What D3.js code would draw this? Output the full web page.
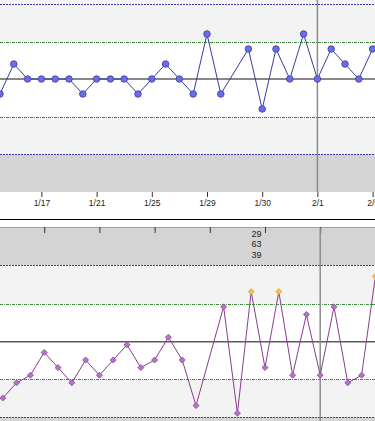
<!DOCTYPE html>
<html>
<head>
<meta charset="utf-8">
<script src="https://cdn.jsdelivr.net/npm/d3@7"></script>
<style>
  body { margin: 0; background: #fff; }
  svg { display: block; }
  .axis text { font-family: 'Liberation Sans', Arial, sans-serif; font-size: 8.5px; fill: #222; }
  .note { font-family: 'Liberation Sans', Arial, sans-serif; font-size: 9px; fill: #222; }
</style>
</head>
<body>
<div id="chart"></div>
<script>
var width = 375
var height = 421

// sample number of the labelled ticks and their dates
var tickIndex = [3, 7, 11, 15, 19, 23, 27]
var tickLabels = ['1/17', '1/21', '1/25', '1/29', '1/30', '2/1', '2/5']

// upper chart, null = no sample
var topValues = [9, 11, 10, 10, 10, 10, 9, 10, 10, 10, 9, 10, 11, 10, 9, 13, 9, null, 12, 8, 12, 10, 13, 10, 12, 11, 10, 12]
var topCenter = 10
var topWarn = [7.5, 12.5]
var topLimit = [5, 15]

// lower chart
var bottomValues = [22, 24, 25, 28, 26, 24, 27, 25, 27, 29, 26, 27, 30, 27, 21, null, 34, 20, 36, 26, 36, 25, 33, 25, 34, 24, 25, 38]
var bottomCenter = 29.4
var bottomWarn = [24.5, 34.4]
var bottomLimit = [19.5, 39.5]

var cursorIndex = 23
var cursorText = ['29', '63', '39']

var svg = d3
  .select('#chart')
  .append('svg')
  .attr('width', width)
  .attr('height', height)

var xTop = d3.scaleLinear().domain([0, 27]).range([0, 372.6])
var xBottom = d3.scaleLinear().domain([0, 27]).range([2.8, 375.4])

var yTop = d3.scaleLinear().domain(topLimit).range([154, 4])
var yBottom = d3.scaleLinear().domain(bottomLimit).range([417, 265])

var topPoints = topValues
  .map(function(v, i) { return { i: i, v: v } })
  .filter(function(d) { return d.v !== null })
var bottomPoints = bottomValues
  .map(function(v, i) { return { i: i, v: v } })
  .filter(function(d) { return d.v !== null })

// ---- upper panel backgrounds
svg.append('rect')
  .attr('x', 0).attr('y', 0)
  .attr('width', width).attr('height', yTop(topLimit[0]))
  .attr('fill', '#f3f3f3')
svg.append('rect')
  .attr('x', 0).attr('y', yTop(topWarn[1]))
  .attr('width', width).attr('height', yTop(topWarn[0]) - yTop(topWarn[1]))
  .attr('fill', '#ffffff')
svg.append('rect')
  .attr('x', 0).attr('y', yTop(topLimit[0]))
  .attr('width', width).attr('height', 192 - yTop(topLimit[0]))
  .attr('fill', '#d4d4d4')

// ---- lower panel backgrounds
svg.append('rect')
  .attr('x', 0).attr('y', 227)
  .attr('width', width).attr('height', height - 227)
  .attr('fill', '#d4d4d4')
svg.append('rect')
  .attr('x', 0).attr('y', yBottom(bottomLimit[1]))
  .attr('width', width).attr('height', yBottom(bottomLimit[0]) - yBottom(bottomLimit[1]))
  .attr('fill', '#f3f3f3')
svg.append('rect')
  .attr('x', 0).attr('y', yBottom(bottomWarn[1]))
  .attr('width', width).attr('height', yBottom(bottomWarn[0]) - yBottom(bottomWarn[1]))
  .attr('fill', '#ffffff')

// panel borders
svg.append('line')
  .attr('x1', 0).attr('x2', width)
  .attr('y1', 219.5).attr('y2', 219.5)
  .attr('stroke', '#000')
svg.append('line')
  .attr('x1', 0).attr('x2', width)
  .attr('y1', 227.5).attr('y2', 227.5)
  .attr('stroke', '#a0a0a0')

// reference lines
function refLines(y, center, warn, limit, centerColor, centerWidth) {
  limit.forEach(function(v) {
    svg.append('line')
      .attr('x1', 0).attr('x2', width)
      .attr('y1', Math.round(y(v)) + 0.5).attr('y2', Math.round(y(v)) + 0.5)
      .attr('stroke', '#3a3ab8')
      .attr('stroke-dasharray', '2,1')
  })
  warn.forEach(function(v) {
    svg.append('line')
      .attr('x1', 0).attr('x2', width)
      .attr('y1', Math.round(y(v)) + 0.5).attr('y2', Math.round(y(v)) + 0.5)
      .attr('stroke', '#3f8a3f')
      .attr('stroke-dasharray', '3,1,1,1')
  })
  svg.append('line')
    .attr('x1', 0).attr('x2', width)
    .attr('y1', y(center)).attr('y2', y(center))
    .attr('stroke', centerColor)
    .attr('stroke-width', centerWidth)
}
refLines(yTop, topCenter, topWarn, topLimit, '#888888', 2)
refLines(yBottom, bottomCenter, bottomWarn, bottomLimit, '#5a5a5a', 1.3)

// axes
var topAxis = d3
  .axisBottom(xTop)
  .tickValues(tickIndex)
  .tickFormat(function(d, i) { return tickLabels[i] })
  .tickSize(5)
  .tickSizeOuter(0)
svg.append('g')
  .attr('class', 'axis x-axis')
  .attr('transform', 'translate(0,192)')
  .call(topAxis)

var bottomAxis = d3
  .axisBottom(xBottom)
  .tickValues(tickIndex)
  .tickFormat('')
  .tickSize(6)
  .tickSizeOuter(0)
svg.append('g')
  .attr('class', 'axis x-axis-bottom')
  .attr('transform', 'translate(0,227)')
  .call(bottomAxis)

svg.selectAll('.axis path').remove()
svg.selectAll('.axis line').attr('stroke', '#333')

// cursor
svg.append('line')
  .attr('x1', xTop(cursorIndex)).attr('x2', xTop(cursorIndex))
  .attr('y1', 0).attr('y2', 192)
  .attr('stroke', '#8c8c8c')
  .attr('stroke-width', 1.5)
svg.append('line')
  .attr('x1', xBottom(cursorIndex)).attr('x2', xBottom(cursorIndex))
  .attr('y1', 228).attr('y2', height)
  .attr('stroke', '#8c8c8c')
  .attr('stroke-width', 1.5)

svg.selectAll('.note')
  .data(cursorText)
  .enter()
  .append('text')
  .attr('class', 'note')
  .attr('x', 256.5)
  .attr('y', function(d, i) { return 236.5 + i * 10.5 })
  .attr('text-anchor', 'middle')
  .text(function(d) { return d })

// upper series
var topLine = d3
  .line()
  .x(function(d) { return xTop(d.i) })
  .y(function(d) { return yTop(d.v) })
svg.append('path')
  .datum(topPoints)
  .attr('d', topLine)
  .attr('fill', 'none')
  .attr('stroke', '#3c3c9c')
  .attr('stroke-width', 1)
svg.selectAll('.top-dot')
  .data(topPoints)
  .enter()
  .append('circle')
  .attr('class', 'top-dot')
  .attr('cx', function(d) { return xTop(d.i) })
  .attr('cy', function(d) { return yTop(d.v) })
  .attr('r', 3.3)
  .attr('fill', '#6c6ce6')
  .attr('stroke', '#3d3da8')
  .attr('stroke-width', 0.8)

// lower series
var bottomLine = d3
  .line()
  .x(function(d) { return xBottom(d.i) })
  .y(function(d) { return yBottom(d.v) })
svg.append('path')
  .datum(bottomPoints)
  .attr('d', bottomLine)
  .attr('fill', 'none')
  .attr('stroke', '#8a3c8e')
  .attr('stroke-width', 1)
svg.selectAll('.bottom-dot')
  .data(bottomPoints)
  .enter()
  .append('path')
  .attr('class', 'bottom-dot')
  .attr('d', d3.symbol().type(d3.symbolSquare).size(18))
  .attr('transform', function(d) {
    return 'translate(' + xBottom(d.i) + ',' + yBottom(d.v) + ') rotate(45)'
  })
  .attr('fill', function(d) { return d.v > bottomWarn[1] ? '#f4c24a' : '#b474c8' })
  .attr('stroke', function(d) { return d.v > bottomWarn[1] ? '#e0a63a' : '#8e4c9e' })
  .attr('stroke-width', 0.8)
</script>
</body>
</html>
